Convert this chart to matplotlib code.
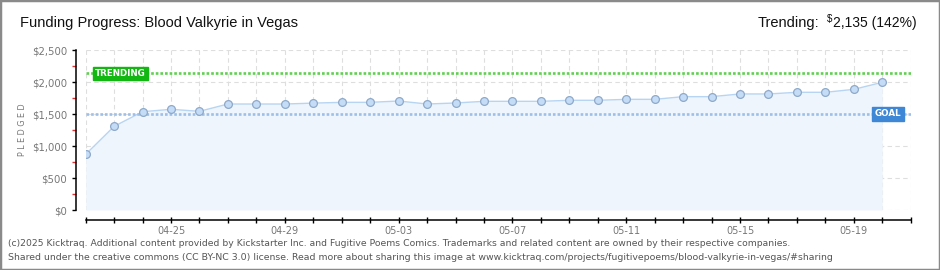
import datetime as dt
import matplotlib
matplotlib.use("Agg")
import matplotlib.pyplot as plt
import matplotlib.transforms as mtransforms
from matplotlib.patches import Rectangle

# ---- data ----
dates = ["04-22", "04-23", "04-24", "04-25", "04-26", "04-27", "04-28", "04-29", "04-30",
         "05-01", "05-02", "05-03", "05-04", "05-05", "05-06", "05-07", "05-08", "05-09",
         "05-10", "05-11", "05-12", "05-13", "05-14", "05-15", "05-16", "05-17", "05-18",
         "05-19", "05-20"]
pledged = [870, 1307, 1536, 1573, 1542, 1656, 1656, 1656, 1670,
           1682, 1682, 1703, 1656, 1672, 1698, 1698, 1698, 1714,
           1714, 1729, 1729, 1771, 1771, 1813, 1813, 1839, 1839,
           1885, 1995]
goal = 1500
trending = 2135
axis_end = "05-21"
labeled_ticks = ["04-25", "04-29", "05-03", "05-07", "05-11", "05-15", "05-19"]
y_ticks = [0, 500, 1000, 1500, 2000, 2500]
y_tick_labels = ["$0", "$500", "$1,000", "$1,500", "$2,000", "$2,500"]

title = "Funding Progress: Blood Valkyrie in Vegas"
trend_label = "Trending:"
trend_value = "2,135 (142%)"
footer1 = ("(c)2025 Kicktraq. Additional content provided by Kickstarter Inc. and Fugitive Poems Comics. "
           "Trademarks and related content are owned by their respective companies.")
footer2 = ("Shared under the creative commons (CC BY-NC 3.0) license. Read more about sharing this image at "
           "www.kicktraq.com/projects/fugitivepoems/blood-valkyrie-in-vegas/#sharing")

def to_date(s):
    m, d = s.split("-")
    return dt.datetime(2025, int(m), int(d))

x = [to_date(s) for s in dates]
x_all = []
cur = to_date(dates[0])
while cur <= to_date(axis_end):
    x_all.append(cur)
    cur += dt.timedelta(days=1)

head_font = ["Liberation Sans", "DejaVu Sans"]

W, H = 940, 270
fig = plt.figure(figsize=(W / 100, H / 100), dpi=100)
fig.patch.set_facecolor("white")

ax = fig.add_axes([85.7 / W, 60 / H, 825 / W, 160 / H])
ax.set_facecolor("white")

line_c = "#b7d4f2"
fill_c = "#eef5fd"
ax.fill_between(x, pledged, 0, color=fill_c, zorder=1, linewidth=0)
ax.plot(x, pledged, color=line_c, lw=1.0, zorder=3)
ax.plot(x, pledged, linestyle="none", marker="o", ms=5.6, mfc="#c4dcf6",
        mec="#8ea9c9", mew=0.9, zorder=5)

ax.axhline(goal, color="#9dbfe8", lw=1.9, linestyle=(0, (1.0, 0.75)), zorder=4)
ax.axhline(trending, color="#5fd050", lw=1.9, linestyle=(0, (1.0, 0.75)), zorder=4)

ax.set_xlim(x_all[0], x_all[-1])
ax.set_ylim(0, 2500)

ax.set_xticks(x_all)
ax.set_xticklabels([d.strftime("%m-%d") if d.strftime("%m-%d") in labeled_ticks else "" for d in x_all])
ax.set_yticks(y_ticks)
ax.set_yticklabels(y_tick_labels)
ax.set_yticks([v + 250 for v in y_ticks[:-1]], minor=True)
ax.grid(True, which="major", color="#dedede", lw=0.8, linestyle=(0, (4, 3)), zorder=0)
ax.set_axisbelow(True)

for s in ["top", "right"]:
    ax.spines[s].set_visible(False)
ax.spines["left"].set_position(("outward", 7))
ax.spines["bottom"].set_position(("outward", 7.2))
ax.spines["left"].set_linewidth(1.1)
ax.spines["bottom"].set_linewidth(1.1)

ax.tick_params(axis="y", which="major", direction="out", length=3, width=1.0,
               colors="black", labelcolor="#777777", labelsize=7.3, pad=3.2)
ax.tick_params(axis="y", which="minor", direction="out", length=3, width=1.0, colors="#e03030")
ax.tick_params(axis="x", which="major", direction="inout", length=5, width=1.0,
               colors="black", labelcolor="#777777", labelsize=7.0, pad=1.5)

ax.set_ylabel("P L E D G E D", fontsize=5.8, color="#777777", labelpad=4)

blend = mtransforms.blended_transform_factory(ax.transAxes, ax.transData)
ax.text(0.042, trending, "TRENDING", transform=blend, ha="center", va="center",
        fontsize=6.3, color="white", fontweight="bold", zorder=7,
        bbox=dict(boxstyle="square,pad=0.25", fc="#12b712", ec="#12b712"))
ax.text(0.972, goal, "GOAL", transform=blend, ha="center", va="center",
        fontsize=6.3, color="white", fontweight="bold", zorder=7,
        bbox=dict(boxstyle="square,pad=0.3", fc="#3d87d6", ec="#3d87d6"))

# header
fig.text(20 / W, 1 - 23 / H, title, ha="left", va="center", fontsize=10.5,
         family=head_font, color="#111111")
renderer = fig.canvas.get_renderer()
tv = fig.text(917 / W, 1 - 23 / H, trend_value, ha="right", va="center", fontsize=10,
              family=head_font, color="#111111")
bb = tv.get_window_extent(renderer)
td = fig.text((bb.x0 - 1) / W, 1 - 19 / H, "$", ha="right", va="center", fontsize=7,
              family=head_font, color="#111111")
bb2 = td.get_window_extent(renderer)
fig.text((bb2.x0 - 8) / W, 1 - 23 / H, trend_label, ha="right", va="center", fontsize=10.5,
         family=head_font, color="#111111")

# footer
fig.text(8 / W, 1 - 243 / H, footer1, ha="left", va="center", fontsize=6.7,
         color="#555555")
fig.text(8 / W, 1 - 257 / H, footer2, ha="left", va="center", fontsize=6.75,
         color="#555555")

fig.patches.append(Rectangle((0, 0), 1, 1, transform=fig.transFigure, fill=False,
                             ec="#8a8a8a", lw=2.5))

fig.savefig("out.png", dpi=100)
